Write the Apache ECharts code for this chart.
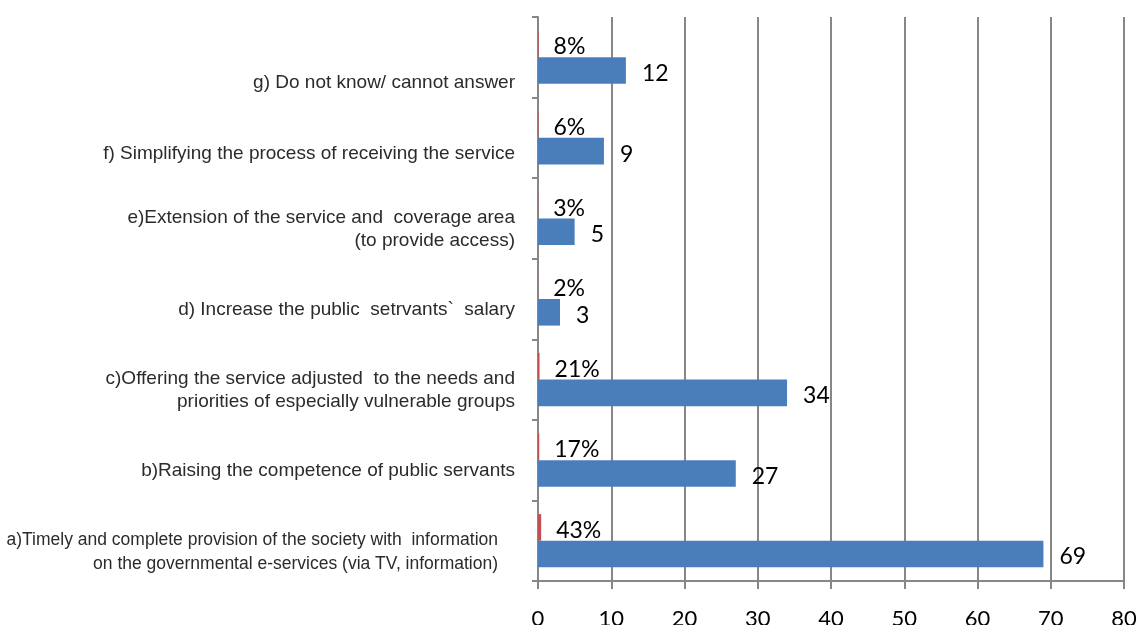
<!DOCTYPE html>
<html>
<head>
<meta charset="utf-8">
<script src="https://cdn.jsdelivr.net/npm/echarts@6/dist/echarts.min.js"></script>
<style>
  html, body { margin: 0; padding: 0; background: #fff; }
  #chart { width: 1140px; height: 625px; }
</style>
</head>
<body>
<div id="chart"></div>
<script>
// Answer options, bottom to top
const categories = [
  'a)Timely and complete provision of the society with  information\non the governmental e-services (via TV, information)',
  'b)Raising the competence of public servants',
  'c)Offering the service adjusted  to the needs and\npriorities of especially vulnerable groups',
  'd) Increase the public  setrvants`  salary',
  'e)Extension of the service and  coverage area\n(to provide access)',
  'f) Simplifying the process of receiving the service',
  'g) Do not know/ cannot answer'
];
// Number of respondents per option
const counts = [69, 27, 34, 3, 5, 9, 12];
// Share of respondents (fraction of total)
const shares = [0.43, 0.17, 0.21, 0.02, 0.03, 0.06, 0.08];
// Value axis ticks
const axisMin = 0, axisMax = 80, axisStep = 10;

const gridColor = '#878787';
const numFont = 'Lato';
const catFont = 'Liberation Sans';

// Label styles: the long first option is set tighter, the last one sits lower
const labelStyles = {
  n: { fontFamily: catFont, fontSize: 19, lineHeight: 23, color: '#2b2b2b' },
  a: { fontFamily: catFont, fontSize: 17.5, lineHeight: 24, color: '#2b2b2b', padding: [0, 17, 0, 0] },
  g: { fontFamily: catFont, fontSize: 19, lineHeight: 23, color: '#2b2b2b', padding: [28, 0, 0, 0] },
  f: { fontFamily: catFont, fontSize: 19, lineHeight: 23, color: '#2b2b2b', padding: [10, 0, 0, 0] }
};

const chart = echarts.init(document.getElementById('chart'));
chart.setOption({
  animation: false,
  grid: { left: 538, right: 16, top: 17, bottom: 44, containLabel: false, outerBoundsMode: 'none' },
  xAxis: {
    type: 'value',
    min: axisMin, max: axisMax, interval: axisStep,
    axisLine: { show: true, lineStyle: { color: gridColor, width: 2 } },
    axisTick: { show: true, length: 8, lineStyle: { color: gridColor, width: 2 } },
    splitLine: { show: true, lineStyle: { color: gridColor, width: 2 } },
    axisLabel: { color: '#000', fontFamily: numFont, fontSize: 22, margin: 27 }
  },
  yAxis: {
    type: 'category',
    data: categories,
    axisLine: { show: true, lineStyle: { color: gridColor, width: 2 } },
    axisTick: { show: true, length: 6, lineStyle: { color: gridColor, width: 2 } },
    axisLabel: {
      color: '#2b2b2b', fontFamily: catFont, fontSize: 19,
      lineHeight: 23, margin: 23, align: 'right',
      padding: [22, 0, 0, 0],
      formatter: (value, idx) => {
        const key = idx === 0 ? 'a' : idx === 6 ? 'g' : idx === 5 ? 'f' : 'n';
        return '{' + key + '|' + value + '}';
      },
      rich: labelStyles
    }
  },
  series: [
    {
      name: 'share',
      type: 'bar',
      data: shares,
      barGap: '0%',
      barCategoryGap: '34%',
      itemStyle: { color: '#c0504d' },
      label: {
        show: true, position: 'right', distance: 15, offset: [0, 3],
        color: '#000', fontFamily: numFont, fontSize: 23,
        formatter: p => Math.round(p.value * 100) + '%'
      }
    },
    {
      name: 'count',
      type: 'bar',
      data: counts,
      barGap: '0%',
      barCategoryGap: '34%',
      itemStyle: { color: '#4a7ebb' },
      label: {
        show: true, position: 'right', distance: 16, offset: [0, 3],
        color: '#000', fontFamily: numFont, fontSize: 23
      }
    }
  ]
});
</script>
</body>
</html>
